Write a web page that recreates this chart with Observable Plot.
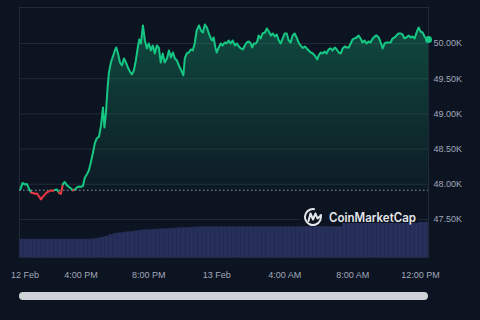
<!DOCTYPE html>
<html><head><meta charset="utf-8">
<script src="https://cdn.jsdelivr.net/npm/d3@7"></script>
<script src="https://cdn.jsdelivr.net/npm/@observablehq/plot@0.6"></script>
<style>
html,body{margin:0;padding:0;background:#0d1421;width:480px;height:320px;overflow:hidden;}
#wrap{position:relative;width:480px;height:320px;}
#wrap > svg{position:absolute;left:0;top:0;}
#scroll{position:absolute;left:19px;top:292px;width:409px;height:8px;border-radius:4px;background:#cfd2d6;}
</style></head><body>
<svg width="0" height="0" style="position:absolute"><defs>
<linearGradient id="cmcGrad" x1="0" y1="0" x2="0" y2="1">
<stop offset="0" stop-color="#16c784" stop-opacity="0.30"/>
<stop offset="1" stop-color="#16c784" stop-opacity="0.02"/>
</linearGradient></defs></svg>
<div id="wrap"></div>
<script>
// minutes after 12 Feb 12:00 PM
const minutes = [26,34,42,49,56,64,71,78,85,92,99,106,113,120,127,134,141,148,155,162,169,176,182,191,198,205,212,219,226,233,240,247,254,261,268,275,282,289,296,304,311,318,323,328,334,339,346,353,360,365,371,378,385,392,399,406,413,420,427,434,441,446,452,459,466,473,480,487,494,501,508,515,522,529,536,544,551,558,565,572,579,586,593,602,607,614,621,628,635,642,649,657,664,671,678,685,692,699,704,709,715,720,727,734,741,748,755,762,769,776,784,791,798,805,812,819,826,833,840,845,851,858,863,868,875,882,890,897,904,911,918,925,932,939,946,953,960,967,974,981,988,995,1002,1009,1016,1024,1031,1038,1045,1052,1059,1066,1075,1080,1087,1094,1101,1108,1115,1122,1129,1137,1144,1151,1158,1165,1172,1179,1186,1193,1200,1207,1214,1221,1228,1235,1242,1249,1256,1263,1271,1278,1285,1292,1299,1306,1313,1320,1327,1334,1341,1348,1355,1362,1369,1376,1383,1390,1398,1405,1412,1419,1426,1433,1440,1447,1454,1461,1468];
const prices = [47927,48019,47998,48005,47941,47884,47877,47863,47870,47827,47785,47827,47856,47884,47898,47913,47905,47920,47927,47884,47863,47998,48033,47984,47962,47941,47913,47927,47955,47969,47962,47977,48097,48140,48197,48310,48438,48580,48651,48679,48836,49091,48807,48992,49361,49588,49730,49815,49901,49943,49858,49730,49688,49787,49730,49659,49602,49560,49617,49759,49943,50057,50000,50256,50043,49929,50000,49901,49972,49858,49972,49943,49730,49858,49730,49787,49901,49801,49872,49787,49759,49688,49631,49546,49787,49858,49872,49915,49901,50000,50185,50256,50185,50156,50270,50227,50142,50071,50043,50085,49943,49872,49943,50000,49972,50014,50000,50043,50000,50043,49972,50000,49957,49929,49915,49972,50014,50028,50000,49943,50000,50000,50028,50114,50071,50142,50156,50213,50170,50114,50142,50099,50128,50043,50000,50071,50142,50142,50043,50014,50114,50142,50085,50014,49972,49936,49957,49929,49901,49872,49858,49830,49773,49830,49872,49858,49886,49858,49915,49929,49901,49943,49915,49872,49858,49929,49957,49943,49943,50000,50057,50071,50085,50114,50071,50014,50043,50000,50028,50014,50071,50099,50114,50085,50014,49929,50000,50014,50014,50014,50071,50085,50114,50142,50142,50128,50071,50085,50114,50085,50099,50071,50156,50227,50170,50156,50099,50057,50057];
const baseline = 47915;
// volume bars, 15-minute bars starting 25 minutes after 12:00 PM
const volStart = 25, volStep = 15;
const volumes = [7.2,7.2,7.2,7.2,7.2,7.2,7.2,7.2,7.2,7.2,7.2,7.2,7.2,7.2,7.2,7.2,7.2,7.3,
 7.6,8.0,8.4,9.0,9.5,9.7,9.9,10.1,10.3,10.6,10.8,10.9,11.0,11.1,11.2,11.3,11.4,11.5,11.6,11.7,11.8,11.9,12.0,12.05,12.1,
 12.15,12.15,12.15,
 12.2,12.2,12.2,12.2,12.2,12.2,12.2,12.2,12.2,12.2,12.2,12.2,12.2,12.2,12.2,12.2,12.2,12.2,12.2,12.2,12.25,12.25,12.25,12.25,12.25,12.25,12.25,12.25,12.25,12.25,
 14.0,14.0,14.0,14.0,14.0,14.0,14.0,14.0,14.0,14.0,14.0,14.0,14.0,14.0,14.0,14.0,14.0,14.0,14.0,14.0,14.0];
const yTicks = [47500, 48000, 48500, 49000, 49500, 50000];
const xTickMinutes = [240, 480, 720, 960, 1200, 1440];
const xTickLabels = ["4:00 PM", "8:00 PM", "13 Feb", "4:00 AM", "8:00 AM", "12:00 PM"];
const firstTickMinute = 0, firstTickLabel = "12 Feb";

const green = "#16c784", red = "#ea3943";
const t0 = Date.UTC(2024, 1, 12, 12, 0);
const toDate = m => new Date(t0 + m * 60000);
const series = minutes.map((m, i) => ({t: toDate(m), price: prices[i]}));
const volBars = volumes.map((v, i) => ({t1: toDate(volStart + i * volStep), t2: toDate(volStart + (i + 1) * volStep), v}));
const labelMap = new Map(xTickMinutes.map((m, i) => [+toDate(m), xTickLabels[i]]));
const xDomain = [toDate(23), toDate(1468)];

const common = {
  width: 480, height: 285, marginLeft: 19, marginRight: 52, marginTop: 7, marginBottom: 28,
  style: {background: "transparent", fontFamily: "'Liberation Sans', Arial, sans-serif", fontSize: "9px", color: "#a1a7bb", overflow: "visible"},
  x: {type: "utc", domain: xDomain}
};

const main = Plot.plot({
  ...common,
  y: {domain: [46960, 50511]},
  marks: [
    Plot.gridY(yTicks, {stroke: "#212a38", strokeOpacity: 1}),
    Plot.frame({stroke: "#212a38"}),
    Plot.areaY(series, {x: "t", y1: baseline, y2: "price", fill: "url(#cmcGrad)"}),
    Plot.ruleY([baseline], {stroke: "#8d94a3", strokeWidth: 1, strokeDasharray: "1.5,2.5"}),
    Plot.line(series, {x: "t", y: "price", z: null, stroke: d => d.price >= baseline ? green : red, strokeWidth: 2, strokeLinejoin: "round"}),
    Plot.dot([series[series.length - 1]], {x: "t", y: "price", r: 3.5, fill: green}),
    Plot.axisY(yTicks, {anchor: "right", tickSize: 0, tickPadding: 5, tickFormat: d => (d / 1000).toFixed(2) + "K", fill: "#a1a7bb", label: null}),
    Plot.axisX(xTickMinutes.map(toDate), {tickSize: 0, tickPadding: 14, tickFormat: d => labelMap.get(+d), fill: "#a1a7bb", label: null}),
    Plot.axisX([toDate(firstTickMinute)], {tickSize: 0, tickPadding: 14, tickFormat: () => firstTickLabel, textAnchor: "start", dx: -2, fill: "#a1a7bb", label: null})
  ]
});

const vol = Plot.plot({
  ...common,
  x: {...common.x, axis: null},
  y: {domain: [0, 100], axis: null},
  marks: [
    Plot.rectY(volBars, {x1: "t1", x2: "t2", y: "v", fill: "#27305a", stroke: "#232b52", strokeWidth: 0.4, clip: true})
  ]
});

const wrap = document.getElementById("wrap");
wrap.appendChild(main);
wrap.appendChild(vol);

// watermark
const ns = "http://www.w3.org/2000/svg";
const wm = document.createElementNS(ns, "svg");
wm.setAttribute("width", "130"); wm.setAttribute("height", "30");
wm.style.left = "300px"; wm.style.top = "203px";
wm.innerHTML = `
<rect x="0" y="2" width="118" height="18" fill="#0d1421"/>
<circle cx="13" cy="14" r="8" fill="none" stroke="#e4e6ea" stroke-width="2" stroke-dasharray="42 8.3" transform="rotate(-20 13 14)"/>
<path d="M8.5 18 L10.5 10.5 L13 16.5 L15.5 10.5 L17.5 15.5 L21 12.5" fill="none" stroke="#e4e6ea" stroke-width="2" stroke-linejoin="round" stroke-linecap="round"/>
<text x="29" y="19.3" fill="#e4e6ea" font-family="Inter, 'Open Sans', sans-serif" font-weight="600" font-size="12.5" textLength="87" lengthAdjust="spacingAndGlyphs">CoinMarketCap</text>`;
wrap.appendChild(wm);

const sc = document.createElement("div");
sc.id = "scroll";
wrap.appendChild(sc);
</script>
</body></html>
